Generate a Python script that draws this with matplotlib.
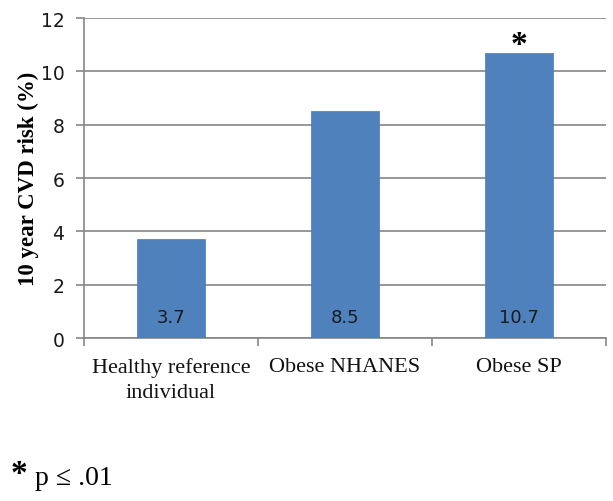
import matplotlib
matplotlib.use("Agg")
import matplotlib.pyplot as plt

categories = ["Healthy reference\nindividual", "Obese NHANES", "Obese SP"]
values = [3.7, 8.5, 10.7]
value_labels = ["3.7", "8.5", "10.7"]
yticks = [0, 2, 4, 6, 8, 10, 12]

fig = plt.figure(figsize=(6.13, 5.02), dpi=100)
ax = fig.add_axes([0.137, 0.3247, 0.8516, 0.6373])

x = list(range(len(categories)))
ax.bar(x, values, width=0.39, color="#4F81BD", edgecolor="#4A7AB5", linewidth=0.5, zorder=3)
ax.set_xlim(-0.5, 2.5)
ax.set_ylim(0, 12)
ax.set_yticks(yticks)
ax.set_yticklabels([str(t) for t in yticks], fontsize=13.5, family="DejaVu Sans", color="#1a1a1a")
ax.yaxis.grid(True, color="#868686", linewidth=1.2, zorder=0)
ax.tick_params(axis="y", length=6, color="#868686", width=1.2, pad=8)

ax.set_xticks([-0.5, 0.5, 1.5, 2.5])
ax.set_xticklabels([])
ax.tick_params(axis="x", length=6, color="#868686", width=1.2)
for xi, lab in zip(x, categories):
    ax.text(xi, -0.72, lab, ha="center", va="top", fontsize=16, family="Liberation Serif",
            color="#111111", linespacing=1.42)

for spine in ["top", "right"]:
    ax.spines[spine].set_visible(False)
ax.spines["left"].set_color("#868686")
ax.spines["left"].set_linewidth(1.2)
ax.spines["bottom"].set_color("#868686")
ax.spines["bottom"].set_linewidth(1.2)

for xi, lab in zip(x, value_labels):
    ax.text(xi, 0.78, lab, ha="center", va="center", fontsize=13, family="DejaVu Sans", color="#1a1a1a", zorder=4)

ax.text(2, values[2], "*", ha="center", va="baseline", fontsize=24, fontweight="bold",
        family="Liberation Serif", color="black")

ax.set_ylabel("10 year CVD risk (%)", fontsize=16.5, fontweight="bold", family="Liberation Serif", labelpad=1)

fig.text(0.018, 0.038, "*", fontsize=24, family="Liberation Serif", fontweight="bold", ha="left", va="baseline")
fig.text(0.057, 0.034, "p \u2264 .01", fontsize=20, family="Liberation Serif", ha="left", va="baseline")

fig.savefig("out.png", dpi=100)
